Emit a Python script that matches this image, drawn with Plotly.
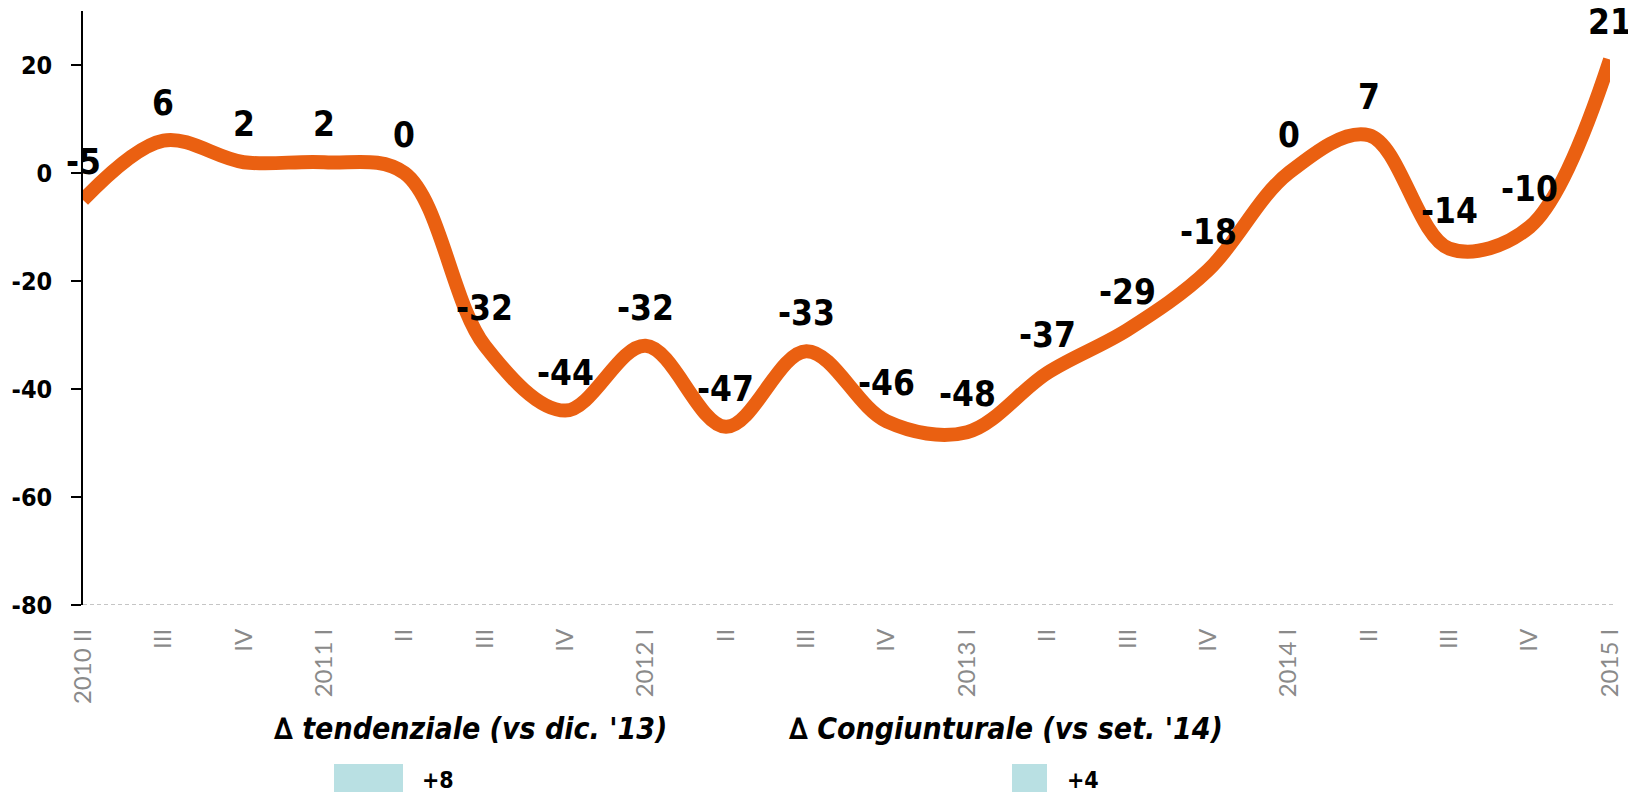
import plotly.graph_objects as go

# ---------------- data ----------------
categories = ["2010 II", "III", "IV", "2011 I", "II", "III", "IV", "2012 I", "II", "III",
              "IV", "2013 I", "II", "III", "IV", "2014 I", "II", "III", "IV", "2015 I"]
values = [-5, 6, 2, 2, 0, -32, -44, -32, -47, -33, -46, -48, -37, -29, -18, 0, 7, -14, -10, 21]
y_ticks = [20, 0, -20, -40, -60, -80]
y_range = [-80, 30]
legend_titles = ["\u2206 tendenziale (vs dic. '13)", "\u2206 Congiunturale (vs set. '14)"]
legend_values = ["+8", "+4"]

# ---------------- layout geometry ----------------
# the page body has an 8px margin, so the figure is drawn 8px smaller and all
# page-pixel positions are shifted by that offset
OFF = 8
W, H = 1636 - OFF, 792 - OFF
ML, MT = 83 - OFF, 11 - OFF
MR = W - (1610 - OFF)
MB = H - (605 - OFF)
PW, PH = W - ML - MR, H - MT - MB

def px_x(px):
    return (px - OFF - ML) / PW

def px_y(py):
    return (H - MB - (py - OFF)) / PH

ORANGE = "#EA6011"
LABEL_FONT = "DejaVu Sans Condensed, DejaVu Sans, sans-serif"
xs = list(range(len(categories)))

fig = go.Figure()
fig.add_trace(go.Scatter(
    x=xs, y=values, mode="lines",
    line=dict(color=ORANGE, width=14, shape="spline", smoothing=1.0),
    hoverinfo="skip", showlegend=False,
))

annotations = []
for xi, v in zip(xs, values):
    annotations.append(dict(
        x=xi, y=v, xref="x", yref="y", text=str(v), showarrow=False,
        yshift=38, yanchor="middle", xanchor="center",
        font=dict(family=LABEL_FONT, size=35, color="black", weight="bold"),
    ))

# legend-like texts below the chart
leg_title_x = [470, 1006]
leg_box = [(334, 403), (1012, 1047)]
leg_val_x = [420, 1065]
shapes = []
for t, tx, (b0, b1), vx, val in zip(legend_titles, leg_title_x, leg_box, leg_val_x, legend_values):
    annotations.append(dict(
        x=px_x(tx), y=px_y(728), xref="paper", yref="paper", text="<i>" + t + "</i>",
        showarrow=False, xanchor="center", yanchor="middle",
        font=dict(family=LABEL_FONT, size=30, color="black", weight="bold"),
    ))
    shapes.append(dict(
        type="rect", xref="paper", yref="paper",
        x0=px_x(b0), x1=px_x(b1), y0=px_y(764), y1=px_y(800),
        fillcolor="#B9E0E3", line=dict(width=0), layer="above",
    ))
    annotations.append(dict(
        x=px_x(vx), y=px_y(780), xref="paper", yref="paper", text=val,
        showarrow=False, xanchor="left", yanchor="middle",
        font=dict(family=LABEL_FONT, size=23, color="black", weight="bold"),
    ))

# dashed baseline at the bottom of the value axis
shapes.append(dict(
    type="line", xref="paper", yref="y", x0=0, x1=1.002, y0=y_range[0], y1=y_range[0],
    line=dict(color="#8c8c8c", width=1.2, dash="4px,3px"), layer="below",
))

fig.update_layout(
    width=W, height=H,
    margin=dict(l=ML, r=MR, t=MT, b=MB, autoexpand=False),
    paper_bgcolor="white", plot_bgcolor="white",
    annotations=annotations, shapes=shapes,
    showlegend=False,
    xaxis=dict(
        range=[0, len(categories) - 1], tickvals=xs, ticktext=categories,
        tickangle=-90, showline=False, showgrid=False, zeroline=False, ticks="",
        tickfont=dict(family="Lato, DejaVu Sans, sans-serif", size=24, color="#8a8a8a", weight=400),
        ticklabelstandoff=18, automargin=False,
    ),
    yaxis=dict(
        range=y_range, tickvals=y_ticks, ticktext=[str(t) for t in y_ticks],
        showline=True, linecolor="black", linewidth=1.5,
        ticks="outside", ticklen=10, tickwidth=1.5, tickcolor="black",
        showgrid=False, zeroline=False,
        tickfont=dict(family=LABEL_FONT, size=25, color="black", weight="bold"),
        ticklabelstandoff=14, automargin=False,
    ),
)

fig.write_html("out.html")
